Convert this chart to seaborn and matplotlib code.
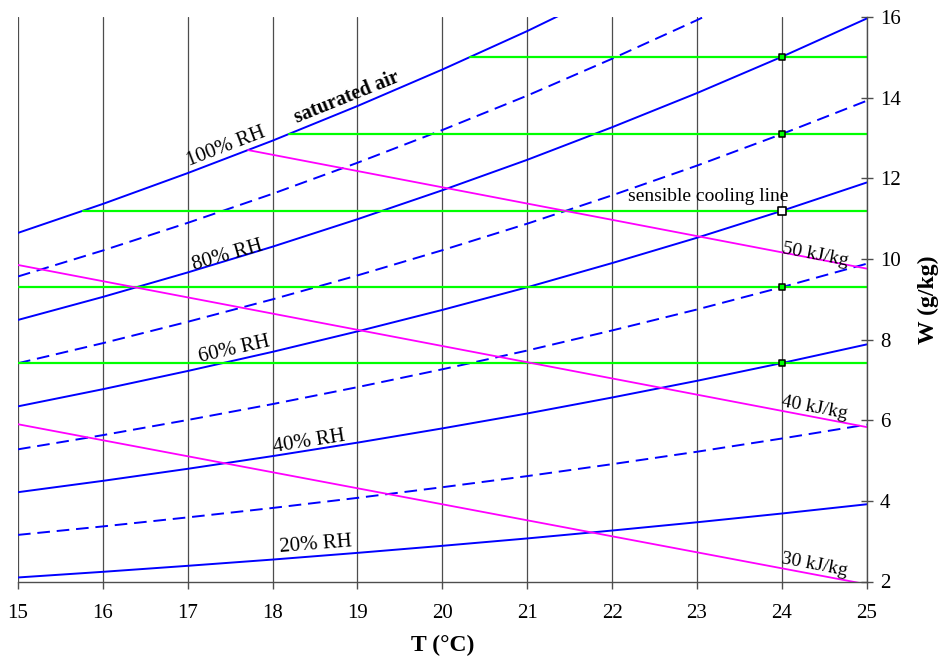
import pandas as pd
import seaborn as sns
import matplotlib.pyplot as plt

# dry bulb temperature (°C) where the humidity ratio curves were read
temps = [15, 16, 17, 18, 19, 20, 21, 22, 23, 24, 25]

# humidity ratio W (g/kg) along each relative humidity curve
rh_levels = [20, 30, 40, 50, 60, 70, 80, 90, 100]
w_rh20 = [2.100, 2.240, 2.389, 2.544, 2.710, 2.885, 3.068, 3.264, 3.469, 3.686, 3.915]
w_rh30 = [3.156, 3.366, 3.590, 3.824, 4.074, 4.338, 4.614, 4.910, 5.218, 5.546, 5.891]
w_rh40 = [4.215, 4.496, 4.795, 5.110, 5.444, 5.797, 6.167, 6.563, 6.977, 7.417, 7.880]
w_rh50 = [5.278, 5.630, 6.006, 6.400, 6.820, 7.263, 7.728, 8.226, 8.746, 9.299, 9.881]
w_rh60 = [6.344, 6.769, 7.221, 7.696, 8.203, 8.736, 9.297, 9.897, 10.525, 11.192, 11.895]
w_rh70 = [7.414, 7.911, 8.441, 8.998, 9.591, 10.216, 10.874, 11.577, 12.314, 13.097, 13.922]
w_rh80 = [8.487, 9.058, 9.665, 10.304, 10.985, 11.703, 12.458, 13.266, 14.113, 15.013, 15.962]
w_rh90 = [9.565, 10.209, 10.895, 11.616, 12.385, 13.197, 14.050, 14.965, 15.922, 16.941, 18.015]
w_rh100 = [10.646, 11.364, 12.129, 12.934, 13.792, 14.697, 15.651, 16.672, 17.741, 18.880, 20.082]
w_curves = [w_rh20, w_rh30, w_rh40, w_rh50, w_rh60, w_rh70, w_rh80, w_rh90, w_rh100]

# constant enthalpy lines (kJ/kg): start and end points
h_levels = [30, 40, 50]
h_t_start = [15.0, 15.0, 17.71]
h_w_start = [5.90, 9.85, 12.70]
h_t_end = [25.0, 25.0, 25.0]
h_w_end = [1.93, 5.83, 9.76]

# sensible cooling lines: from the dew point to 25 °C, states at 24 °C
cool_w = [15.01, 13.10, 11.19, 9.30, 7.42]
cool_t_start = [20.33, 18.19, 15.76, 15.0, 15.0]
cool_t_end = 25.0
state_t = 24.0
x_ticks = list(range(15, 26))
y_ticks = [2, 4, 6, 8, 10, 12, 14, 16]

sns.set_style("white")
plt.rcParams["font.family"] = ["Liberation Serif", "DejaVu Serif"]
plt.rcParams["text.color"] = "black"
plt.rcParams["axes.labelcolor"] = "black"
plt.rcParams["xtick.labelcolor"] = "black"
plt.rcParams["ytick.labelcolor"] = "black"

fig, ax = plt.subplots(figsize=(9.44, 6.62), dpi=100)
fig.subplots_adjust(left=18 / 944, right=866.7 / 944, bottom=(662 - 581.5) / 662, top=(662 - 17) / 662)

# relative humidity curves
for rh, w in zip(rh_levels, w_curves):
    ls = "-" if rh % 20 == 0 else (0, (6.5, 3.5))
    sns.lineplot(x=temps, y=w, color="#0000ff", lw=1.4, linestyle=ls, ax=ax)

# sensible cooling lines
for w, t0 in zip(cool_w, cool_t_start):
    sns.lineplot(x=[t0, cool_t_end], y=[w, w], color="#00ff00", lw=1.6, ax=ax)

# enthalpy lines
for t0, w0, t1, w1 in zip(h_t_start, h_w_start, h_t_end, h_w_end):
    sns.lineplot(x=[t0, t1], y=[w0, w1], color="#ff00ff", lw=1.3, ax=ax)

# states at 24 °C
states = pd.DataFrame({"T": [state_t] * len(cool_w), "W": cool_w})
small = states.drop(index=2)
sns.scatterplot(data=small, x="T", y="W", marker="s", s=20, color="#00ff00",
                edgecolor="black", linewidth=1.1, ax=ax, zorder=5)
sns.scatterplot(data=states.iloc[[2]], x="T", y="W", marker="s", s=38, color="white",
                edgecolor="black", linewidth=1.2, ax=ax, zorder=5)

# labels on the curves
ax.text(17.45, 12.78, "100% RH", fontsize=15, rotation=21, ha="center", va="center", rotation_mode="anchor")
ax.text(18.88, 14.0, "saturated air", fontsize=14.5, fontweight="bold", rotation=22, ha="center", va="center", rotation_mode="anchor")
ax.text(17.47, 10.08, "80% RH", fontsize=15, rotation=16, ha="center", va="center", rotation_mode="anchor")
ax.text(17.55, 7.75, "60% RH", fontsize=15, rotation=12.7, ha="center", va="center", rotation_mode="anchor")
ax.text(18.43, 5.46, "40% RH", fontsize=15, rotation=9, ha="center", va="center", rotation_mode="anchor")
ax.text(18.51, 2.91, "20% RH", fontsize=15, rotation=4.5, ha="center", va="center", rotation_mode="anchor")
ax.text(23.13, 11.56, "sensible cooling line", fontsize=14, ha="center", va="center")
for h, y in zip(h_levels, [2.41, 6.31, 10.10]):
    ax.text(24.39, y, f"{h} kJ/kg", fontsize=14, rotation=-10.8, ha="center", va="center", rotation_mode="anchor")

ax.set_xlim(15, 25)
ax.set_ylim(2, 16)
ax.set_xticks(x_ticks)
ax.set_yticks(y_ticks)
ax.yaxis.tick_right()
ax.yaxis.set_label_position("right")
ax.grid(axis="x", color="0.3", lw=0.9)
ax.grid(axis="y", visible=False)

for side in ["left", "top"]:
    ax.spines[side].set_visible(False)
for side in ["right", "bottom"]:
    ax.spines[side].set_color("0.3")
    ax.spines[side].set_linewidth(1.0)

ax.tick_params(axis="x", direction="out", length=5, width=1, color="0.3", labelsize=15, pad=11, bottom=True)
ax.tick_params(axis="y", direction="inout", length=9, width=1, color="0.3", labelsize=15, pad=5, right=True, left=False)

ax.set_xlabel("T (°C)", fontsize=17, fontweight="bold", labelpad=9)
ax.set_ylabel("W (g/kg)", fontsize=17, fontweight="bold", labelpad=12)

fig.savefig("out.png", dpi=100)
